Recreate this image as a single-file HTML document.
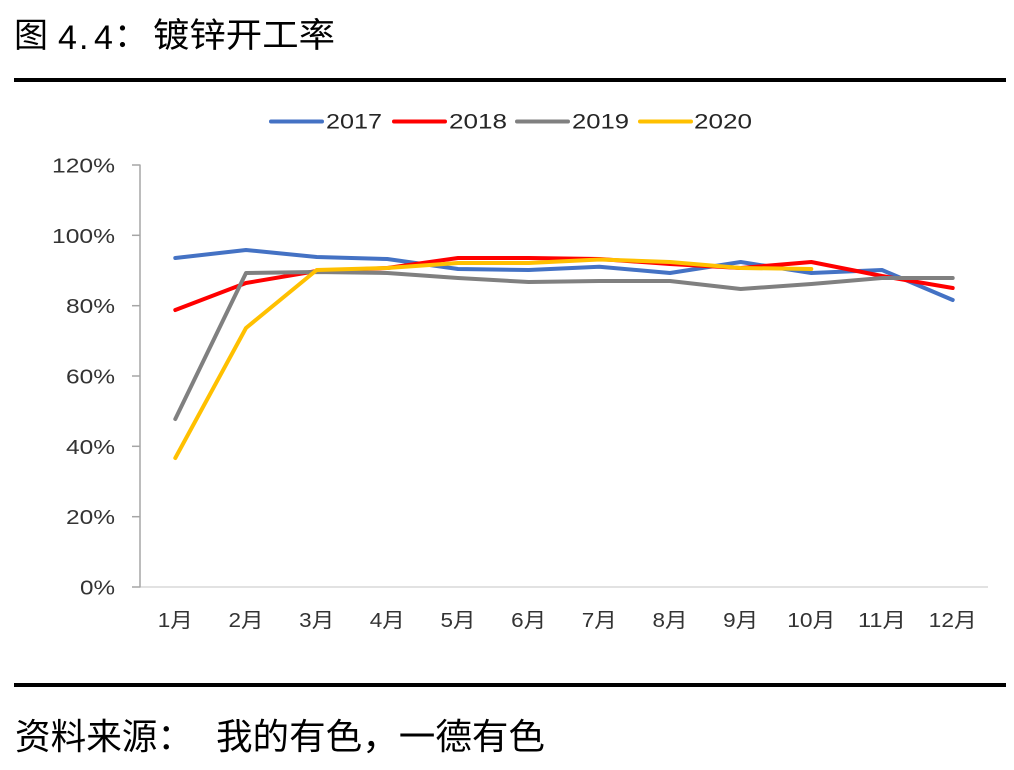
<!DOCTYPE html>
<html><head><meta charset="utf-8"><style>
html,body{margin:0;padding:0;background:#fff;}
svg{display:block;}
</style></head><body>
<svg width="1014" height="770" viewBox="0 0 1014 770" xmlns="http://www.w3.org/2000/svg">
<rect width="1014" height="770" fill="#fff"/>
<!-- Title -->
<g font-family="'Liberation Sans','Noto Sans CJK SC',sans-serif" fill="#000">
<text x="14" y="47" font-size="34" font-family="'Noto Sans CJK SC',sans-serif">图</text>
<text x="58" y="49" font-size="34">4</text>
<text x="79" y="49" font-size="34">.</text>
<text x="94" y="49" font-size="34">4</text>
<text x="114" y="47" font-size="34" font-family="'Noto Sans CJK SC',sans-serif">：</text>
<text x="153" y="47" font-size="34" font-family="'Noto Sans CJK SC',sans-serif" textLength="182" lengthAdjust="spacingAndGlyphs">镀锌开工率</text>
</g>
<rect x="14" y="78" width="992" height="4" fill="#000"/>
<rect x="14" y="683" width="992" height="4" fill="#000"/>
<!-- Source -->
<g font-family="'Liberation Sans','Noto Sans CJK SC',sans-serif" fill="#000" font-size="36">
<text x="15" y="749" textLength="178" lengthAdjust="spacingAndGlyphs">资料来源：</text>
<text x="216" y="749" textLength="329" lengthAdjust="spacingAndGlyphs">我的有色，一德有色</text>
</g>
<!-- Legend -->
<g stroke-width="4" stroke-linecap="round">
<line x1="271" y1="121.5" x2="322" y2="121.5" stroke="#4472C4"/>
<line x1="394" y1="121.5" x2="445" y2="121.5" stroke="#FF0000"/>
<line x1="517" y1="121.5" x2="568" y2="121.5" stroke="#808080"/>
<line x1="640" y1="121.5" x2="691" y2="121.5" stroke="#FFC000"/>
</g>
<g font-family="'Liberation Sans',sans-serif" font-size="21" fill="#262626">
<text x="326" y="128.5" textLength="56" lengthAdjust="spacingAndGlyphs">2017</text>
<text x="449" y="128.5" textLength="58" lengthAdjust="spacingAndGlyphs">2018</text>
<text x="572" y="128.5" textLength="57" lengthAdjust="spacingAndGlyphs">2019</text>
<text x="694" y="128.5" textLength="58" lengthAdjust="spacingAndGlyphs">2020</text>
</g>
<!-- Axes -->
<line x1="140" y1="587" x2="988" y2="587" stroke="#D9D9D9" stroke-width="1.5"/>
<line x1="140" y1="164.5" x2="140" y2="587.5" stroke="#A6A6A6" stroke-width="1.5"/>
<g stroke="#A6A6A6" stroke-width="1.5">
<line x1="132" y1="165" x2="140" y2="165"/>
<line x1="132" y1="235.3" x2="140" y2="235.3"/>
<line x1="132" y1="305.7" x2="140" y2="305.7"/>
<line x1="132" y1="376" x2="140" y2="376"/>
<line x1="132" y1="446.3" x2="140" y2="446.3"/>
<line x1="132" y1="516.7" x2="140" y2="516.7"/>
<line x1="132" y1="587" x2="140" y2="587"/>
</g>
<g font-family="'Liberation Sans',sans-serif" font-size="20" fill="#333" text-anchor="end">
<text x="115" y="172.5" textLength="63" lengthAdjust="spacingAndGlyphs">120%</text>
<text x="115" y="242.8" textLength="63" lengthAdjust="spacingAndGlyphs">100%</text>
<text x="115" y="313.2" textLength="49" lengthAdjust="spacingAndGlyphs">80%</text>
<text x="115" y="383.5" textLength="49" lengthAdjust="spacingAndGlyphs">60%</text>
<text x="115" y="453.8" textLength="49" lengthAdjust="spacingAndGlyphs">40%</text>
<text x="115" y="524.2" textLength="49" lengthAdjust="spacingAndGlyphs">20%</text>
<text x="115" y="594.5" textLength="35" lengthAdjust="spacingAndGlyphs">0%</text>
</g>
<g font-family="'Liberation Sans','Noto Sans CJK SC',sans-serif" font-size="20" fill="#333" text-anchor="middle">
<text x="175.3" y="627" textLength="35" lengthAdjust="spacingAndGlyphs">1月</text>
<text x="246" y="627" textLength="35" lengthAdjust="spacingAndGlyphs">2月</text>
<text x="316.7" y="627" textLength="35" lengthAdjust="spacingAndGlyphs">3月</text>
<text x="387.3" y="627" textLength="35" lengthAdjust="spacingAndGlyphs">4月</text>
<text x="458" y="627" textLength="35" lengthAdjust="spacingAndGlyphs">5月</text>
<text x="528.7" y="627" textLength="35" lengthAdjust="spacingAndGlyphs">6月</text>
<text x="599.3" y="627" textLength="35" lengthAdjust="spacingAndGlyphs">7月</text>
<text x="670" y="627" textLength="35" lengthAdjust="spacingAndGlyphs">8月</text>
<text x="740.7" y="627" textLength="35" lengthAdjust="spacingAndGlyphs">9月</text>
<text x="811.3" y="627" textLength="48" lengthAdjust="spacingAndGlyphs">10月</text>
<text x="882" y="627" textLength="48" lengthAdjust="spacingAndGlyphs">11月</text>
<text x="952.7" y="627" textLength="48" lengthAdjust="spacingAndGlyphs">12月</text>
</g>
<!-- Series -->
<g fill="none" stroke-width="4" stroke-linejoin="round" stroke-linecap="round">
<polyline stroke="#4472C4" points="175.3,258 246,250 316.7,257 387.3,259 458,269 528.7,270 599.3,266.7 670,273 740.7,262 811.3,273 882,270 952.7,300"/>
<polyline stroke="#FF0000" points="175.3,310 246,283 316.7,271 387.3,268 458,258 528.7,258 599.3,259 670,264 740.7,268 811.3,262 882,276 952.7,288"/>
<polyline stroke="#808080" points="175.3,419 246,273 316.7,272 387.3,273 458,278 528.7,282 599.3,281 670,281 740.7,289 811.3,284 882,278 952.7,278"/>
<polyline stroke="#FFC000" points="175.3,458 246,328 316.7,270 387.3,268 458,263 528.7,263 599.3,259.5 670,262 740.7,268 811.3,269"/>
</g>
</svg>
</body></html>
